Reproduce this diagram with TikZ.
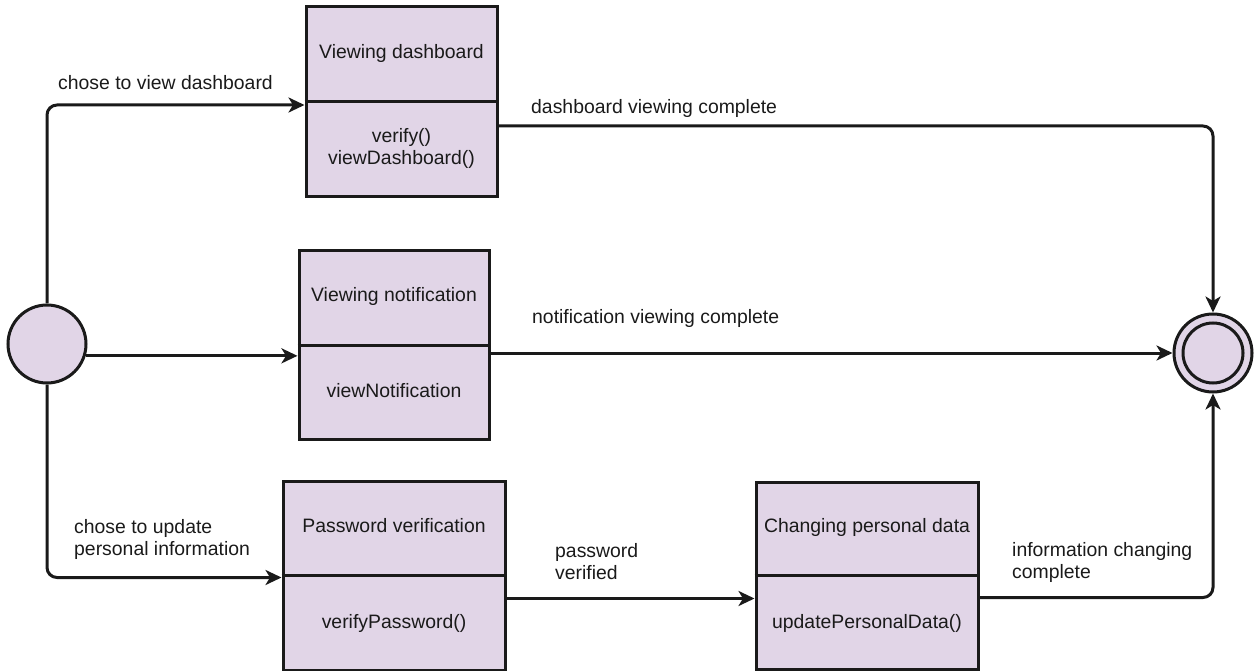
\documentclass[tikz,border=0pt]{standalone}
\usepackage{fontspec}
\setmainfont{Liberation Sans}
\usetikzlibrary{arrows.meta}
\definecolor{fillc}{HTML}{E1D5E7}
\definecolor{ink}{HTML}{1A1A1A}
\begin{document}
\begin{tikzpicture}[x=1pt,y=-1pt,
  every node/.style={font=\fontsize{19.4}{22}\selectfont, inner sep=0pt, text=ink},
  box/.style={draw=ink, line width=3pt, fill=fillc, rectangle},
  circ/.style={draw=ink, line width=3pt, fill=fillc, circle},
  divider/.style={draw=ink, line width=3pt},
  lbl/.style={anchor=west, align=left},
  conn/.style={draw=ink, line width=3pt, rounded corners=10pt, -{Stealth[length=16pt,width=15pt,inset=4.5pt]}},
]
\useasboundingbox (0,0) rectangle (1254,671);

% states
\node[box, minimum width=191pt, minimum height=190pt] (b1) at (401.5,102) {};
\draw[divider] (b1.west) -- (b1.east);
\node (t1) at (401.5,53) {Viewing dashboard};
\node[align=center] (m1) at (401.5,148) {verify()\\viewDashboard()};

\node[box, minimum width=190pt, minimum height=188pt] (b2) at (394,345) {};
\draw[divider] (b2.west) -- (b2.east);
\node (t2) at (394,296) {Viewing notification};
\node (m2) at (394,391) {viewNotification};

\node[box, minimum width=222pt, minimum height=189pt] (b3) at (394,575.5) {};
\draw[divider] (b3.west) -- (b3.east);
\node (t3) at (394,526) {Password verification};
\node (m3) at (394,623) {verifyPassword()};

\node[box, minimum width=222pt, minimum height=187pt] (b4) at (867,575.5) {};
\draw[divider] (b4.west) -- (b4.east);
\node (t4) at (867,527) {Changing personal data};
\node (m4) at (867,623) {updatePersonalData()};

% initial and final
\node[circ, minimum size=78pt] (init) at (47,344) {};
\node[circ, minimum size=78pt] (fin) at (1213,353) {};
\node[circ, minimum size=60pt] (fini) at (1213,353) {};

% connectors
\draw[conn] (init.north) |- ([yshift=-3pt]b1.west);
\draw[conn] (init.-17) -- (init.-17 -| b2.west);
\draw[conn] (init.south) |- ([yshift=-2pt]b3.west);
\draw[conn] ([yshift=-24pt]b1.east) -| (fin.north);
\draw[conn] (fin.west -| b2.east) -- (fin.west);
\draw[conn] ([yshift=-23pt]b3.east) -- ([yshift=-23pt]b4.west);
\draw[conn] ([yshift=-22pt]b4.east) -| (fin.south);

% labels
\node[lbl] (l1) at (58,83) {chose to view dashboard};
\node[lbl] (l2) at (531,108) {dashboard viewing complete};
\node[lbl] (l3) at (532,318) {notification viewing complete};
\node[lbl] (l4) at (74,539) {chose to update\\personal information};
\node[lbl] (l5) at (555,562) {password\\verified};
\node[lbl] (l6) at (1012,562) {information changing\\complete};
\end{tikzpicture}
\end{document}
